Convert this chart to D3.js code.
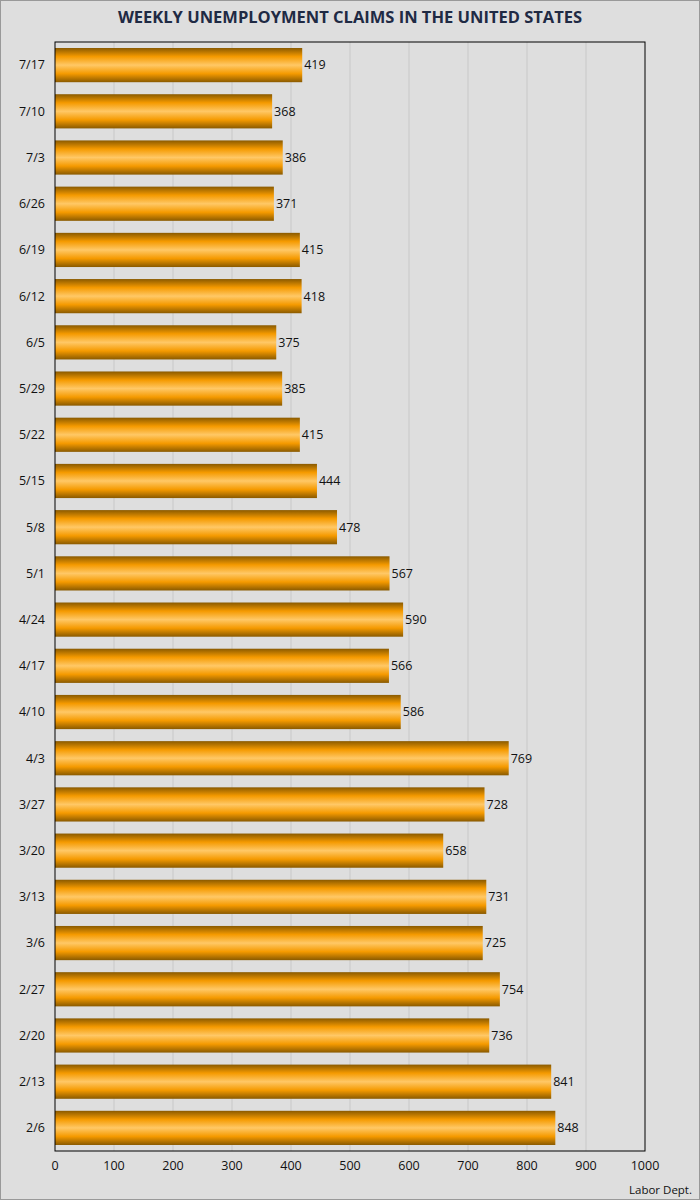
<!DOCTYPE html>
<html><head><meta charset="utf-8">
<script src="https://cdn.jsdelivr.net/npm/d3@7"></script>
<style>body{margin:0;background:#dedede}</style>
</head><body>
<script>
var weeks = ['7/17','7/10','7/3','6/26','6/19','6/12','6/5','5/29','5/22','5/15','5/8','5/1','4/24','4/17','4/10','4/3','3/27','3/20','3/13','3/6','2/27','2/20','2/13','2/6'];
var claims = [419,368,386,371,415,418,375,385,415,444,478,567,590,566,586,769,728,658,731,725,754,736,841,848];
var ticks = [0,100,200,300,400,500,600,700,800,900,1000];

var margin = {top: 42, left: 55, right: 55, bottom: 49};
var W = 700, H = 1200;
var width = W - margin.left - margin.right, height = H - margin.top - margin.bottom;

var svg = d3.select('body').append('svg').attr('width', W).attr('height', H)
    .style('font-family', '"Open Sans", sans-serif');

svg.append('rect').attr('x', 0.5).attr('y', 0.5).attr('width', W - 1).attr('height', H - 1)
    .attr('fill', '#dedede').attr('stroke', '#999');

var grad = svg.append('defs').append('linearGradient').attr('id', 'bg')
    .attr('x1', 0).attr('y1', 0).attr('x2', 0).attr('y2', 1);
grad.append('stop').attr('offset', '0%').attr('stop-color', '#8a5a00');
grad.append('stop').attr('offset', '25%').attr('stop-color', '#f59a00');
grad.append('stop').attr('offset', '50%').attr('stop-color', '#ffc866');
grad.append('stop').attr('offset', '75%').attr('stop-color', '#f59a00');
grad.append('stop').attr('offset', '100%').attr('stop-color', '#8a5a00');

svg.append('text').attr('x', W / 2).attr('y', 23).attr('text-anchor', 'middle')
    .attr('font-size', 16.5).attr('font-weight', 'bold').attr('fill', '#1f2a44')
    .text('WEEKLY UNEMPLOYMENT CLAIMS IN THE UNITED STATES');

var g = svg.append('g').attr('transform', 'translate(' + margin.left + ',' + margin.top + ')');

var x = d3.scaleLinear().domain([0, 1000]).range([0, width]);
var y = d3.scaleBand().domain(weeks).range([0, height]).paddingInner(0.26).paddingOuter(0.13);

g.selectAll('.grid').data(ticks.slice(1, -1)).enter().append('line')
    .attr('x1', x).attr('x2', x).attr('y1', 0).attr('y2', height)
    .attr('stroke', '#c8c8c8');

g.selectAll('.bar').data(claims).enter().append('rect')
    .attr('x', 0).attr('y', function (d, i) { return y(weeks[i]); })
    .attr('width', function (d) { return x(d); }).attr('height', y.bandwidth())
    .attr('fill', 'url(#bg)');

g.selectAll('.lbl').data(claims).enter().append('text')
    .attr('x', function (d) { return x(d) + 2; })
    .attr('y', function (d, i) { return y(weeks[i]) + y.bandwidth() / 2; })
    .attr('dy', '0.35em').attr('font-size', 12.5).attr('fill', '#111')
    .text(function (d) { return d; });

g.selectAll('.cat').data(weeks).enter().append('text')
    .attr('x', -10).attr('y', function (d) { return y(d) + y.bandwidth() / 2; })
    .attr('dy', '0.35em').attr('text-anchor', 'end').attr('font-size', 12.5).attr('fill', '#111')
    .text(function (d) { return d; });

g.selectAll('.tk').data(ticks).enter().append('text')
    .attr('x', x).attr('y', height + 19).attr('text-anchor', 'middle')
    .attr('font-size', 12.5).attr('fill', '#111').text(function (d) { return d; });

g.append('rect').attr('width', width).attr('height', height)
    .attr('fill', 'none').attr('stroke', '#000');

svg.append('text').attr('x', W - 8).attr('y', H - 6).attr('text-anchor', 'end')
    .attr('font-size', 11.5).attr('fill', '#111').text('Labor Dept.');
</script>
</body></html>
